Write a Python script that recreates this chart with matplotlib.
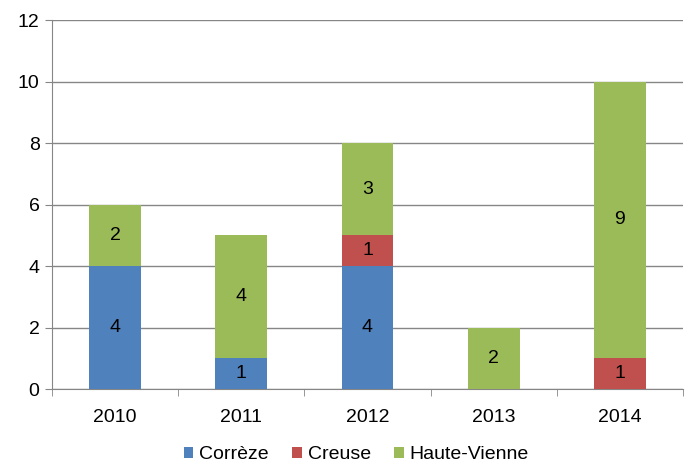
import matplotlib.pyplot as plt
import numpy as np

plt.rcParams['font.family'] = ['Liberation Sans', 'DejaVu Sans']

years = ['2010', '2011', '2012', '2013', '2014']
correze = [4, 1, 4, 0, 0]
creuse = [0, 0, 1, 0, 1]
haute_vienne = [2, 4, 3, 2, 9]

series = [('Corrèze', correze, '#4F81BD'),
          ('Creuse', creuse, '#C0504D'),
          ('Haute-Vienne', haute_vienne, '#9BBB59')]

fig = plt.figure(figsize=(6.88, 4.66), dpi=100)
ax = fig.add_axes([0.0756, 0.165, 0.917, 0.792])

x = np.arange(len(years))
bottom = np.zeros(len(years))
for name, vals, color in series:
    vals = np.array(vals, dtype=float)
    bars = ax.bar(x, vals, 0.41, bottom=bottom, color=color, label=name, zorder=3)
    for b, v, b0 in zip(bars, vals, bottom):
        if v > 0:
            ax.text(b.get_x() + b.get_width() / 2, b0 + v / 2, '%d' % v,
                    ha='center', va='center', fontsize=14, color='black', zorder=4)
    bottom += vals

ax.set_xlim(-0.5, len(years) - 0.5)
ax.set_ylim(0, 12)
ax.set_yticks(range(0, 13, 2))
ax.yaxis.grid(True, color='#868686', linewidth=1, zorder=0)
ax.set_xticks(x)
ax.set_xticklabels(years)
ax.set_xticks(np.arange(-0.5, len(years), 1), minor=True)
ax.tick_params(axis='x', which='major', length=0, labelsize=14, pad=14)
ax.tick_params(axis='x', which='minor', length=5, color='#868686')
ax.tick_params(axis='y', length=5, color='#868686', labelsize=14, pad=4)

for side in ['top', 'right']:
    ax.spines[side].set_visible(False)
for side in ['left', 'bottom']:
    ax.spines[side].set_color('#868686')

fig.legend(loc='center', bbox_to_anchor=(0.518, 0.024), ncol=3, frameon=False,
           fontsize=14, handlelength=0.5, handleheight=0.5, handletextpad=0.3,
           columnspacing=1.2, borderpad=0)

fig.savefig('out.png', dpi=100)
